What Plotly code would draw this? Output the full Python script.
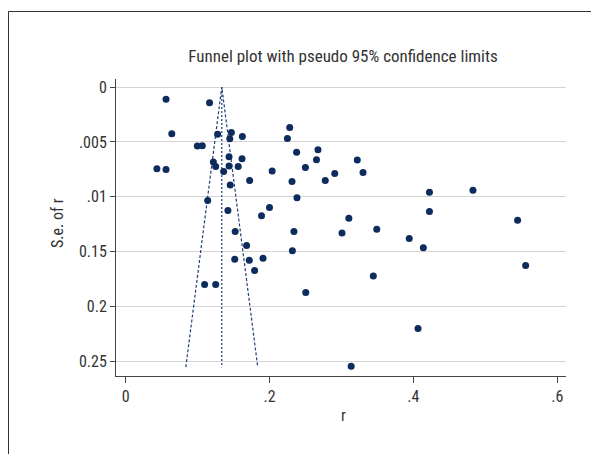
import plotly.graph_objects as go

# Data
r_vals = [0.0562, 0.1167, 0.0642, 0.0435, 0.0562, 0.0997, 0.1066, 0.1220, 0.1252, 0.1279,
          0.1363, 0.1470, 0.1448, 0.1623, 0.1438, 0.1438, 0.1618, 0.1565, 0.1454, 0.1724,
          0.1141, 0.1422, 0.1523, 0.1682, 0.1517, 0.1719, 0.1793, 0.1910, 0.1889, 0.2000,
          0.2037, 0.1098, 0.1252, 0.2281, 0.2249, 0.2377, 0.2313, 0.2499, 0.2382, 0.2674,
          0.2653, 0.2775, 0.2907, 0.2340, 0.2318, 0.2504, 0.3220, 0.3300, 0.3103, 0.3008,
          0.3491, 0.3443, 0.3135, 0.3942, 0.4138, 0.4223, 0.4223, 0.4064, 0.4828, 0.5448,
          0.5560]
se_vals = [0.00112, 0.00143, 0.00425, 0.00744, 0.00750, 0.00538, 0.00535, 0.00683, 0.00723, 0.00431,
           0.00769, 0.00413, 0.00471, 0.00450, 0.00635, 0.00720, 0.00653, 0.00723, 0.00893, 0.00850,
           0.01033, 0.01124, 0.01315, 0.01443, 0.01567, 0.01577, 0.01671, 0.01558, 0.01173, 0.01097,
           0.00765, 0.01798, 0.01798, 0.00368, 0.00468, 0.00595, 0.00860, 0.00732, 0.01009, 0.00571,
           0.00662, 0.00850, 0.00787, 0.01315, 0.01491, 0.01871, 0.00665, 0.00778, 0.01194, 0.01330,
           0.01294, 0.01720, 0.02543, 0.01379, 0.01464, 0.00957, 0.01133, 0.02199, 0.00939, 0.01212,
           0.01625]
pooled_r = 0.1337
se_max = 0.0255
z95 = 1.96

x_tickvals = [0, 0.2, 0.4, 0.6]
x_ticktext = ["0", ".2", ".4", ".6"]
y_tickvals = [0, 0.005, 0.01, 0.015, 0.02, 0.025]
y_ticktext = ["0", ".005", ".01", "0.15", "0.2", "0.25"]

# page body margin shifts the figure by 8px
OFF = 8
W, H = 599 - OFF, 454 - OFF
L, T = 116 - OFF, 79 - OFF
PLOT_RIGHT, PLOT_BOTTOM = 566 - OFF, 376 - OFF
R, B = W - PLOT_RIGHT, H - PLOT_BOTTOM
PW, PH = W - L - R, H - T - B

def px_x(px):  # reference pixel -> paper x
    return (px - OFF - L) / PW

def px_y(py):  # reference pixel -> paper y
    return 1 - (py - OFF - T) / PH

FONT = "Liberation Sans Narrow, Roboto Condensed, DejaVu Sans Condensed, Arial Narrow, sans-serif"
NAVY = "#0d2b5c"
LINEC = "#1f3f78"
TXT = "#333333"

fig = go.Figure()

# Funnel lines
fig.add_trace(go.Scatter(
    x=[pooled_r - z95 * se_max, pooled_r, pooled_r + z95 * se_max],
    y=[se_max, 0, se_max],
    mode="lines", line=dict(color=LINEC, width=1.2, dash="3px,2px"),
    hoverinfo="skip", showlegend=False))
fig.add_trace(go.Scatter(
    x=[pooled_r, pooled_r], y=[0, se_max],
    mode="lines", line=dict(color=LINEC, width=1.2, dash="2px,2px"),
    hoverinfo="skip", showlegend=False))

fig.add_trace(go.Scatter(
    x=r_vals, y=se_vals, mode="markers",
    marker=dict(color=NAVY, size=7, line=dict(width=0)),
    showlegend=False))

fig.update_layout(
    width=W, height=H,
    margin=dict(l=L, r=R, t=T, b=B),
    paper_bgcolor="white", plot_bgcolor="white",
    font=dict(family=FONT, size=16, color=TXT),
    title=dict(text="Funnel plot with pseudo 95% confidence limits",
               x=px_x(343), xref="paper", xanchor="center",
               y=1 - (56 - OFF) / H, yref="container", yanchor="middle",
               font=dict(family=FONT, size=17, color=TXT)),
    xaxis=dict(range=[(115.7 - 125.3) / 720, (566 - 125.3) / 720],
               tickvals=x_tickvals, ticktext=x_ticktext,
               showgrid=False, zeroline=False,
               showline=True, linecolor="#444444", linewidth=1,
               ticks="outside", ticklen=6, tickcolor="#444444",
               tickfont=dict(size=16)),
    yaxis=dict(range=[(376 - 87.3) / 54.87 * 0.005, -(8 / 54.87) * 0.005],
               tickvals=y_tickvals, ticktext=y_ticktext,
               showgrid=True, gridcolor="#d4d4d4", gridwidth=1,
               zeroline=False,
               showline=True, linecolor="#444444", linewidth=1,
               ticks="outside", ticklen=5, tickcolor="#444444",
               tickfont=dict(size=16)),
    annotations=[
        dict(text="S.e. of r", xref="paper", yref="paper",
             x=px_x(57), y=px_y(223),
             xanchor="center", yanchor="middle", textangle=-90,
             showarrow=False, font=dict(family=FONT, size=16, color=TXT)),
        dict(text="r", xref="paper", yref="paper",
             x=px_x(343), y=px_y(415),
             xanchor="center", yanchor="middle",
             showarrow=False, font=dict(family=FONT, size=16, color=TXT)),
    ],
    shapes=[
        dict(type="rect", xref="paper", yref="paper",
             x0=px_x(8.5), x1=px_x(640),
             y0=px_y(480), y1=px_y(11.5),
             line=dict(color="#333333", width=1), fillcolor="rgba(0,0,0,0)",
             layer="below"),
    ],
)

fig.write_html("out.html")
